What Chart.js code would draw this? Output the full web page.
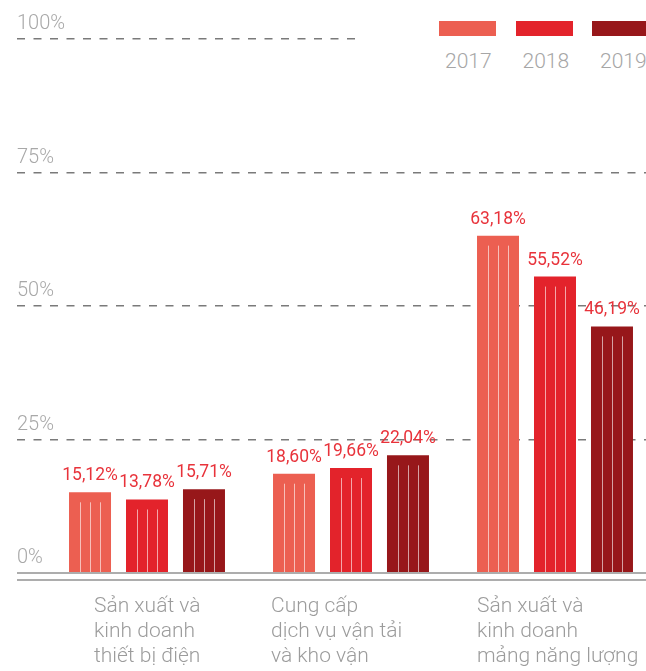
<!DOCTYPE html>
<html>
<head>
<meta charset="utf-8">
<script src="https://cdn.jsdelivr.net/npm/chart.js@4.4.0/dist/chart.umd.min.js"></script>
<style>
  html, body { margin: 0; padding: 0; background: #fff; }
  #wrap { position: relative; width: 646px; height: 671px; overflow: hidden; }
  #c { position: absolute; left: 0; top: 0; }
  #legend { position: absolute; left: 358px; top: 0; width: 288px; height: 82px; background: #fff; }
  .box { position: absolute; top: 21px; width: 57px; height: 15px; }
  .lbl { position: absolute; top: 47px; font: 300 21px Roboto, sans-serif; color: #a6a6a6; line-height: 28px; white-space: nowrap; }
</style>
</head>
<body>
<div id="wrap">
  <canvas id="c" width="680" height="671"></canvas>
  <div id="legend"></div>
</div>
<script>
// data
var categories = [
  ['Sản xuất và', 'kinh doanh', 'thiết bị điện'],
  ['Cung cấp', 'dịch vụ vận tải', 'và kho vận'],
  ['Sản xuất và', 'kinh doanh', 'mảng năng lượng']
];
var years = ['2017', '2018', '2019'];
var share2017 = [15.12, 18.60, 63.18];
var share2018 = [13.78, 19.66, 55.52];
var share2019 = [15.71, 22.04, 46.19];
var yTicks = [0, 25, 50, 75, 100];

var colors = ['#ec5f51', '#e3232b', '#97171a'];
var yMin = -1.3;
var labelShift = [-53, -80, -78];

function pct(v) {
  return v.toFixed(2).replace('.', ',') + '%';
}

// html legend (box over label)
var legend = document.getElementById('legend');
years.forEach(function(y, i) {
  var left = 81 + i * 76.5;
  var box = document.createElement('div');
  box.className = 'box';
  box.style.left = left + 'px';
  box.style.background = colors[i];
  legend.appendChild(box);
  var lbl = document.createElement('div');
  lbl.className = 'lbl';
  lbl.style.left = (left + 6 + i) + 'px';
  lbl.textContent = y;
  legend.appendChild(lbl);
});

// white stripes inside bars + value labels
var barDeco = {
  id: 'barDeco',
  afterDatasetsDraw: function(chart) {
    var ctx = chart.ctx;
    ctx.save();
    chart.data.datasets.forEach(function(ds, di) {
      var meta = chart.getDatasetMeta(di);
      meta.data.forEach(function(bar, i) {
        ctx.strokeStyle = 'rgba(255,255,255,0.6)';
        ctx.lineWidth = 1;
        [-10, 0, 10].forEach(function(dx) {
          ctx.beginPath();
          ctx.moveTo(Math.round(bar.x + dx) + 0.5, bar.y + 10);
          ctx.lineTo(Math.round(bar.x + dx) + 0.5, bar.base);
          ctx.stroke();
        });
        ctx.fillStyle = '#e8333b';
        ctx.font = '17.5px Roboto, sans-serif';
        ctx.textAlign = 'center';
        ctx.textBaseline = 'alphabetic';
        ctx.fillText(pct(ds.data[i]), bar.x, bar.y - 12);
      });
    });
    ctx.restore();
  }
};

// category labels under the groups
var catLabels = {
  id: 'catLabels',
  afterDraw: function(chart) {
    var ctx = chart.ctx;
    var xs = chart.scales.x;
    ctx.save();
    ctx.fillStyle = '#9c9c9c';
    ctx.font = '300 21px Roboto, sans-serif';
    ctx.textAlign = 'left';
    ctx.textBaseline = 'middle';
    categories.forEach(function(lines, i) {
      var x = xs.getPixelForValue(i) + labelShift[i];
      lines.forEach(function(t, k) {
        ctx.fillText(t, x, 607 + k * 25);
      });
    });
    ctx.restore();
  }
};

new Chart(document.getElementById('c').getContext('2d'), {
  type: 'bar',
  data: {
    labels: categories,
    datasets: [
      { label: years[0], data: share2017, backgroundColor: colors[0] },
      { label: years[1], data: share2018, backgroundColor: colors[1] },
      { label: years[2], data: share2019, backgroundColor: colors[2] }
    ]
  },
  options: {
    responsive: false,
    animation: false,
    layout: { padding: { left: 17, top: 39, right: 23, bottom: 91 } },
    datasets: { bar: { barPercentage: 0.737, categoryPercentage: 0.838 } },
    plugins: { legend: { display: false }, tooltip: { enabled: false } },
    scales: {
      x: { display: false },
      y: {
        min: yMin,
        max: 100,
        afterBuildTicks: function(s) {
          s.ticks = [yMin].concat(yTicks).map(function(v) { return { value: v }; });
        },
        afterFit: function(s) { s.width = 28; },
        grid: {
          drawTicks: true,
          tickLength: 28,
          color: function(c) { return c.tick.value <= 0 ? '#adadad' : '#7a7a7a'; },
          lineWidth: function(c) { return c.tick.value <= 0 ? 2 : 1.5; },
          tickBorderDash: function(c) { return c.tick.value <= 0 ? [] : [8, 8.5]; }
        },
        border: {
          display: false,
          dash: function(c) { return c.tick.value <= 0 ? [] : [8, 8.5]; },
          dashOffset: 11.5
        },
        ticks: {
          mirror: true,
          crossAlign: 'near',
          padding: -28,
          labelOffset: -15,
          color: '#a8a8a8',
          font: { family: 'Roboto', size: 20, weight: '300' },
          callback: function(v) { return v < 0 ? '' : v + '%'; }
        }
      }
    }
  },
  plugins: [barDeco, catLabels]
});
</script>
</body>
</html>
